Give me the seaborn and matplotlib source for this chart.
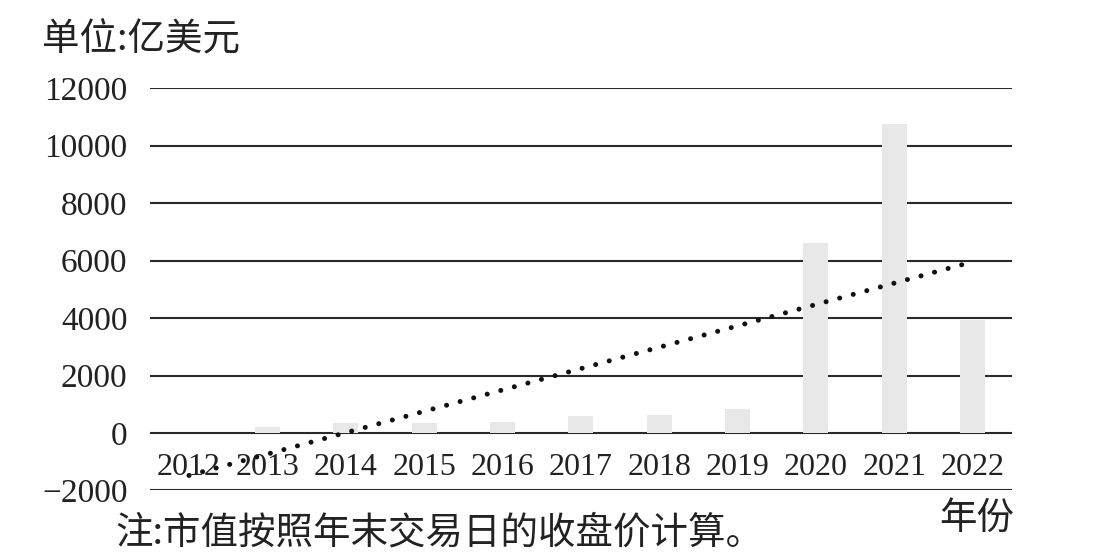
import numpy as np
import pandas as pd
import matplotlib.pyplot as plt
import seaborn as sns

# -----------------------------
# Data
# -----------------------------

years = ["2012", "2013", "2014", "2015", "2016", "2017",
         "2018", "2019", "2020", "2021", "2022"]
market_value = [0, 200, 360, 360, 380, 590, 640, 835, 6600, 10750, 3930]
y_ticks = [-2000, 0, 2000, 4000, 6000, 8000, 10000, 12000]

df = pd.DataFrame({"year": years, "value": market_value})

# -----------------------------
# Styling
# -----------------------------

sns.set_style("white")
plt.rcParams["font.family"] = ["Liberation Serif", "Noto Sans CJK SC", "DejaVu Sans"]
cjk = ["Noto Sans CJK SC", "DejaVu Sans"]

fig = plt.figure(figsize=(11.18, 5.58), dpi=100)
ax = fig.add_axes([0.134, 0.121, 0.771, 0.721])

sns.barplot(data=df, x="year", y="value", color="#e8e8e8",
            width=0.32, saturation=1, linewidth=0, ax=ax, zorder=2)

# linear trend line
xs = np.arange(len(years))
k, b = np.polyfit(xs, market_value, 1)
ax.plot(xs, k * xs + b, color="#111111", linewidth=3.6,
        linestyle=(0, (0.01, 2.8)), dash_capstyle="round", zorder=3)

ax.set_ylim(-2000, 12000)
ax.set_xlim(-0.5, len(years) - 0.5)
ax.set_yticks(y_ticks)
ax.set_yticklabels([f"{v:d}".replace("-", "\u2212") for v in y_ticks])

ax.yaxis.grid(True, color="#2a2a2a", linewidth=1.5, zorder=1)
ax.set_axisbelow(True)
for s in ax.spines.values():
    s.set_visible(False)

ax.tick_params(axis="y", length=0, pad=16, labelsize=24, labelcolor="#222222")
ax.tick_params(axis="x", length=0, pad=-27, labelsize=23, labelcolor="#222222")
ax.set_xlabel("")
ax.set_ylabel("")

fig.text(0.038, 0.928, "单位:亿美元", family=cjk, fontsize=27, color="#222222",
         ha="left", va="center")
fig.text(0.103, 0.045, "注:市值按照年末交易日的收盘价计算。", family=cjk, fontsize=27,
         color="#222222", ha="left", va="center")
fig.text(0.84, 0.07, "年份", family=cjk, fontsize=27, color="#222222",
         ha="left", va="center")

fig.savefig("out.png", dpi=100)
